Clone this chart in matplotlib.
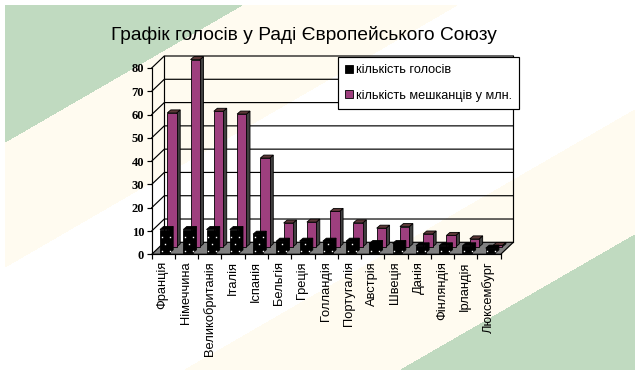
import matplotlib
matplotlib.use("Agg")
import matplotlib.pyplot as plt
from matplotlib.patches import Polygon, Patch

countries = ['Франція', 'Німеччина', 'Великобританія', 'Італія', 'Іспанія',
             'Бельгія', 'Греція', 'Голландія', 'Португалія', 'Австрія',
             'Швеція', 'Данія', 'Фінляндія', 'Ірландія', 'Люксембург']
votes = [10, 10, 10, 10, 8, 5, 5, 5, 5, 4, 4, 3, 3, 3, 2]
people = [57.5, 80.4, 58.2, 57, 38.1, 10.2, 10.6, 15.2, 10.3, 8, 8.7, 5.5, 4.9, 3.4, 0.6]
y_ticks = [0, 10, 20, 30, 40, 50, 60, 70, 80]

W, H = 641, 375
fig = plt.figure(figsize=(6.41, 3.75), dpi=100, facecolor='white')

# background bands, in pixels
bg = fig.add_axes([0, 0, 1, 1], zorder=0)
bg.set_xlim(0, W)
bg.set_ylim(H, 0)
bg.axis('off')
green = '#c0dac0'
cream = '#fffbf0'
bands = [([(242, 5), (457, 5), (5, 267), (5, 142)], cream),
         ([(5, 5), (242, 5), (5, 142)], green),
         ([(635, 110), (635, 235), (401, 370), (185, 370)], cream),
         ([(635, 235), (635, 370), (401, 370)], green)]
for pts, col in bands:
    bg.add_patch(Polygon(pts, closed=True, fc=col, ec='none', antialiased=False))

ax = fig.add_axes([151.7 / W, 1 - 254.3 / H, 349 / W, 186.3 / H], zorder=1)
ax.patch.set_visible(False)
ax.set_xlim(0, 15)
ax.set_ylim(0, 80)
px = 15 / 349
py = 80 / 186.3
dx = 12.6 * px
dy = 12 * py

lw = 0.85
# floor and walls
ax.add_patch(Polygon([(0, 0), (15, 0), (15 + dx, dy), (dx, dy)], closed=True,
                     fc='#808080', ec='black', lw=lw, clip_on=False, zorder=2))
for v in y_ticks[1:]:
    ax.plot([0, dx, 15 + dx], [v, v + dy, v + dy], color='black', lw=lw, clip_on=False, zorder=1)
ax.plot([dx, dx], [dy, 80 + dy], color='black', lw=lw, clip_on=False, zorder=1)
ax.plot([15 + dx, 15 + dx], [dy, 80 + dy], color='black', lw=lw, clip_on=False, zorder=1)


def bar3d(i, v, off, base, width, front, side, top, z):
    x0 = i + off * px
    x1 = x0 + width * px
    y0 = base * py
    y1 = y0 + v
    ddx = 3.5 * px
    ddy = 3 * py
    ax.add_patch(Polygon([(x1, y0), (x1 + ddx, y0 + ddy), (x1 + ddx, y1 + ddy), (x1, y1)],
                         closed=True, fc=side, ec='black', lw=0.6, clip_on=False, zorder=z))
    ax.add_patch(Polygon([(x0, y1), (x1, y1), (x1 + ddx, y1 + ddy), (x0 + ddx, y1 + ddy)],
                         closed=True, fc=top, ec='black', lw=0.6, clip_on=False, zorder=z))
    ax.add_patch(Polygon([(x0, y0), (x1, y0), (x1, y1), (x0, y1)], closed=True,
                         fc=front, ec='black', lw=0.6, clip_on=False, zorder=z))
    return x0, y0, y1


def dots(x0, y0, y1, z):
    # staggered one pixel texture on the black bars
    k = 0
    yy = y0 + 2 * py
    while yy < y1 - 1 * py:
        cols = [1.5, 9.5] if k % 2 == 0 else [5.5]
        ax.plot([x0 + c * px for c in cols], [yy] * len(cols), ls='none', marker='s', ms=1.0,
                mew=0, color='white', clip_on=False, zorder=z)
        yy += 7 * py
        k += 1


for i, v in enumerate(people):
    bar3d(i, v, 15.6, 7.5, 9.4, '#9e3f7e', '#404040', '#5c3838', 3)
for i, v in enumerate(votes):
    x0, y0, y1 = bar3d(i, v, 8.3, 1.5, 9.7, 'black', 'black', 'black', 4)
    dots(x0, y0, y1, 4.5)

for s in ['top', 'right']:
    ax.spines[s].set_visible(False)
for s in ['left', 'bottom']:
    ax.spines[s].set_linewidth(lw)
    ax.spines[s].set_zorder(5)

ax.set_yticks(y_ticks)
ax.set_yticklabels(y_ticks, family='Liberation Serif', fontweight='bold', fontsize=9)
ax.set_xticks(range(16))
ax.set_xticklabels([])
ax.set_xticks([i + 0.47 for i in range(15)], countries, minor=True, rotation=90,
              family='Liberation Sans', fontsize=9.3)
ax.tick_params(axis='y', length=3.5, width=lw, pad=2)
ax.tick_params(axis='x', which='major', length=3.5, width=lw)
ax.tick_params(axis='x', which='minor', length=0, pad=5)

fig.text(304 / W, 1 - 35 / H, 'Графік голосів у Раді Європейського Союзу', ha='center', va='center',
         family='Liberation Sans', fontsize=13.8, color='black', zorder=5)

handles = [Patch(fc='black', ec='black', lw=0.6), Patch(fc='#9e3f7e', ec='black', lw=0.6)]
leg = fig.legend(handles, ['кількість голосів', 'кількість мешканців у млн.'],
                 loc='upper left', bbox_to_anchor=(338.3 / W, 1 - 57.3 / H), borderaxespad=0,
                 prop={'family': 'Liberation Sans', 'size': 9.2}, fancybox=False, framealpha=1,
                 facecolor='white', edgecolor='black', handlelength=0.6, handleheight=0.6,
                 handletextpad=0.25, labelspacing=1.05, borderpad=0.55)
leg.get_frame().set_linewidth(lw)
leg.set_zorder(6)

fig.savefig('out.png', dpi=100)
